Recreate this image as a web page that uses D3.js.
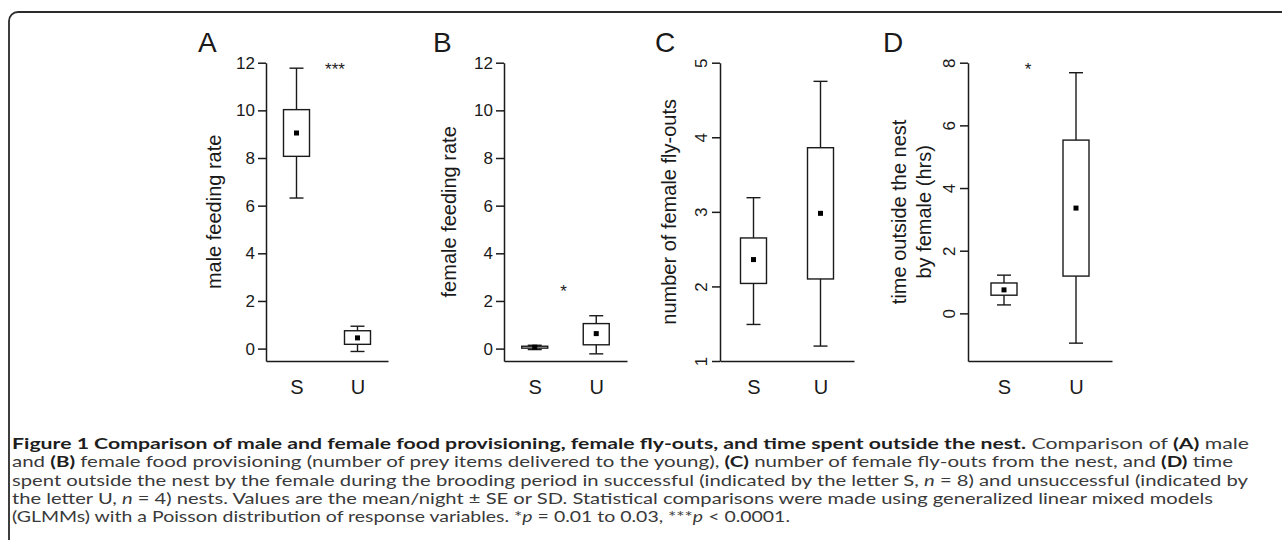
<!DOCTYPE html>
<html>
<head>
<meta charset="utf-8">
<script src="https://cdn.jsdelivr.net/npm/d3@7"></script>
<style>
body { margin: 0; background: #fff; }
svg { display: block; }
</style>
</head>
<body>
<div id="chart"></div>
<script>
let width = 1282, height = 540;

// data
const groups = ["S", "U"];
const letters = ["A", "B", "C", "D"];
const yTitles = [["male feeding rate"], ["female feeding rate"], ["number of female fly-outs"], ["time outside the nest", "by female (hrs)"]];
const yMin = [-0.52, -0.52, 1, -1.52];
const yMax = [12, 12, 5, 8];
const yTicks = [[0, 2, 4, 6, 8, 10, 12], [0, 2, 4, 6, 8, 10, 12], [1, 2, 3, 4, 5], [0, 2, 4, 6, 8]];
const whiskerLow = [[6.32, -0.12], [-0.04, -0.22], [1.49, 1.2], [0.27, -0.95]];
const boxLow = [[8.07, 0.18], [0.02, 0.16], [2.04, 2.1], [0.58, 1.19]];
const means = [[9.05, 0.45], [0.06, 0.63], [2.36, 2.98], [0.75, 3.36]];
const boxHigh = [[10.03, 0.75], [0.1, 1.05], [2.65, 3.86], [0.97, 5.53]];
const whiskerHigh = [[11.77, 0.94], [0.14, 1.38], [3.19, 4.75], [1.22, 7.68]];
const stars = ["***", "*", "", "*"];
const starY = [11.85, 2.55, 0, 7.9];

const caption = [
    [["b", "Figure 1 Comparison of male and female food provisioning, female fly-outs, and time spent outside the nest."], ["", " Comparison of "], ["b", "(A)"], ["", " male"]],
    [["", "and "], ["b", "(B)"], ["", " female food provisioning (number of prey items delivered to the young), "], ["b", "(C)"], ["", " number of female fly-outs from the nest, and "], ["b", "(D)"], ["", " time"]],
    [["", "spent outside the nest by the female during the brooding period in successful (indicated by the letter S, "], ["i", "n"], ["", " = 8) and unsuccessful (indicated by"]],
    [["", "the letter U, "], ["i", "n"], ["", " = 4) nests. Values are the mean/night \u00b1 SE or SD. Statistical comparisons were made using generalized linear mixed models"]],
    [["", "(GLMMs) with a Poisson distribution of response variables. *"], ["i", "p"], ["", " = 0.01 to 0.03, ***"], ["i", "p"], ["", " < 0.0001."]]
];

// layout
let panelLeft = [266, 504, 720, 968];
let panelRight = [388, 627, 854, 1112];
let plotTop = 62.7, plotBottom = 361;
let letterX = [198, 433, 655, 883];
let titleX = [[221], [456], [676], [906, 931]];
let starDx = [8, -2, 0, -12];
let turnedTicks = [false, false, true, true];
let captionEnd = [1249, 1233, 1248, 1213, 790];
let ink = "#1a1a1a";
let chartFont = "'Liberation Sans', Arial, sans-serif";

let svg = d3.select("#chart")
    .append("svg")
    .attr("width", width)
    .attr("height", height)
    .attr("viewBox", [0, 0, width, height]);

svg.append("rect")
    .attr("x", 9).attr("y", 12)
    .attr("width", 1320).attr("height", 620)
    .attr("rx", 9)
    .attr("fill", "none")
    .attr("stroke", "#2b2b2b")
    .attr("stroke-width", 1.8);

letters.forEach((letter, i) => {
    let x = d3.scalePoint(groups, [panelLeft[i], panelRight[i]]).padding(0.5);
    let y = d3.scaleLinear([yMin[i], yMax[i]], [plotBottom, plotTop]);
    let g = svg.append("g")
        .attr("font-family", chartFont)
        .attr("fill", ink);

    let yAxis = g.append("g")
        .attr("transform", `translate(${panelLeft[i]},0)`)
        .call(d3.axisLeft(y).tickValues(yTicks[i]).tickFormat(d3.format("d")).tickSize(8).tickSizeOuter(0).tickPadding(3))
        .attr("font-family", chartFont)
        .attr("font-size", 17)
        .call(a => a.selectAll("path, line").attr("stroke", ink).attr("stroke-width", 1.5))
        .call(a => a.selectAll("text").attr("fill", ink));

    // panels C and D print their tick numbers turned on their side
    if (turnedTicks[i]) {
        yAxis.selectAll(".tick text")
            .attr("transform", "rotate(-90)")
            .attr("text-anchor", "middle")
            .attr("x", 0)
            .attr("y", -13)
            .attr("dy", 0);
    }

    g.append("g")
        .attr("transform", `translate(0,${plotBottom})`)
        .call(d3.axisBottom(x).tickSize(0).tickSizeOuter(0).tickPadding(19))
        .attr("font-family", chartFont)
        .attr("font-size", 20)
        .call(a => a.select(".domain").attr("stroke", ink).attr("stroke-width", 1.5))
        .call(a => a.selectAll("text").attr("fill", ink));

    g.append("text")
        .attr("x", letterX[i])
        .attr("y", 52)
        .attr("font-size", 28)
        .text(letter);

    yTitles[i].forEach((t, k) => {
        g.append("text")
            .attr("transform", `translate(${titleX[i][k]},${(plotTop + plotBottom) / 2}) rotate(-90)`)
            .attr("text-anchor", "middle")
            .attr("font-size", 20)
            .text(t);
    });

    let boxes = g.append("g")
        .selectAll("g")
        .data(groups)
        .join("g")
        .attr("transform", d => `translate(${x(d)},0)`)
        .attr("stroke", ink)
        .attr("stroke-width", 1.4);

    boxes.append("line")
        .attr("y1", (d, j) => y(whiskerLow[i][j]))
        .attr("y2", (d, j) => y(whiskerHigh[i][j]));
    boxes.append("line")
        .attr("x1", -7).attr("x2", 7)
        .attr("y1", (d, j) => y(whiskerHigh[i][j]))
        .attr("y2", (d, j) => y(whiskerHigh[i][j]));
    boxes.append("line")
        .attr("x1", -7).attr("x2", 7)
        .attr("y1", (d, j) => y(whiskerLow[i][j]))
        .attr("y2", (d, j) => y(whiskerLow[i][j]));
    boxes.append("rect")
        .attr("x", -13).attr("width", 26)
        .attr("y", (d, j) => y(boxHigh[i][j]))
        .attr("height", (d, j) => y(boxLow[i][j]) - y(boxHigh[i][j]))
        .attr("fill", "#fff");
    boxes.append("rect")
        .attr("x", -2.5).attr("width", 5)
        .attr("y", (d, j) => y(means[i][j]) - 2.5)
        .attr("height", 5)
        .attr("stroke", "none")
        .attr("fill", "#000");

    if (stars[i]) {
        g.append("text")
            .attr("x", (x("S") + x("U")) / 2 + starDx[i])
            .attr("y", y(starY[i]) + 9)
            .attr("text-anchor", "middle")
            .attr("font-size", 17)
            .text(stars[i]);
    }
});

let cap = svg.append("g")
    .attr("font-family", "Lato, 'Open Sans', sans-serif")
    .attr("font-size", 15)
    .attr("fill", "#3a3a3a");

caption.forEach((line, i) => {
    let t = cap.append("text")
        .attr("x", 12)
        .attr("y", 449 + i * 18.3)
        .attr("textLength", captionEnd[i] - 12)
        .attr("lengthAdjust", "spacingAndGlyphs");
    line.forEach(([s, str]) => {
        t.append("tspan")
            .attr("font-weight", s === "b" ? "bold" : null)
            .attr("fill", s === "b" ? "#1e1e1e" : null)
            .attr("font-style", s === "i" ? "italic" : null)
            .text(str);
    });
});
</script>
</body>
</html>
